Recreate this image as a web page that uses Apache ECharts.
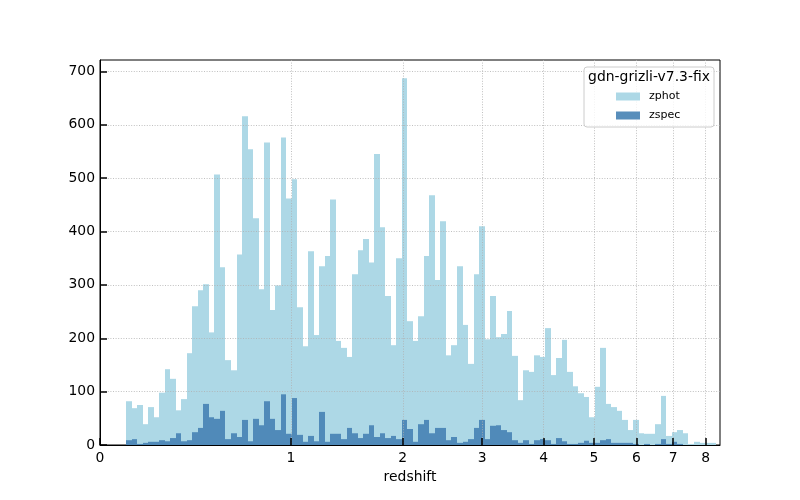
<!DOCTYPE html>
<html><head><meta charset="utf-8">
<script src="https://cdn.jsdelivr.net/npm/echarts@6/dist/echarts.min.js"></script>
<style>html,body{margin:0;padding:0;background:#fff}#c{width:800px;height:500px}</style>
</head><body><div id="c"></div>
<script>
// ---- data ----
const zTickValues = [0, 1, 2, 3, 4, 5, 6, 7, 8];
const yTickValues = [0, 100, 200, 300, 400, 500, 600, 700];
const seriesNames = ['zphot', 'zspec'];
const legendTitle = 'gdn-grizli-v7.3-fix';
const xAxisName = 'redshift';
const binStartZ = 0.1;      // first bin edge (redshift)
const binStepLn = 0.02;     // bin width in ln(1+z)
const xMaxZ = 8.484;        // axis upper limit (redshift)
const yMax = 721.35;
const zphotCounts = [82,69,75,39,71,52,98,142,124,65,86,172,260,290,301,211,507,333,159,140,
  357,616,554,425,292,567,253,299,576,462,498,258,185,363,206,335,354,460,195,182,
  165,320,365,386,342,545,408,279,187,350,687,232,195,241,354,468,309,419,168,187,
  335,225,152,320,410,198,279,202,208,251,167,84,140,137,168,165,219,131,163,197,
  137,110,97,90,52,109,182,77,71,64,47,28,47,22,21,21,39,92,17,24,
  28,22,2,6,4,4,4];
const zspecCounts = [9,11,2,4,6,6,9,7,13,22,7,9,24,32,77,52,49,64,11,22,
  15,47,7,49,37,82,49,28,95,21,88,19,6,17,7,62,6,21,21,11,
  32,22,13,21,37,15,22,13,17,11,47,30,6,39,47,22,32,32,9,15,
  4,6,11,32,47,11,36,37,28,24,9,4,9,2,9,11,9,2,13,7,
  2,2,4,8,4,4,9,11,4,4,4,4,2,0,2,0,2,11,2,6,
  2,0,0,0,0,0,0];

// ---- helpers ----
const FONT = 'DejaVu Sans';
const toX = z => Math.log(1 + z);
function binData(counts) {
  return counts.map((c, i) => {
    const lo = Math.log(1 + binStartZ) + binStepLn * i;
    return [lo, lo + binStepLn, c];
  });
}
function renderBar(params, api) {
  const p0 = api.coord([api.value(0), api.value(2)]);
  const p1 = api.coord([api.value(1), 0]);
  const x0 = Math.round(p0[0]), x1 = Math.round(p1[0]);
  return { type: 'rect', shape: { x: x0, y: p0[1], width: x1 - x0, height: p1[1] - p0[1] }, style: api.style() };
}

const gridLine = { show: true, lineStyle: { color: '#b0b0b0', width: 0.8, type: [1, 1.6] } };
const chart = echarts.init(document.getElementById('c'), null, { renderer: 'canvas' });
chart.setOption({
  animation: false,
  backgroundColor: '#fff',
  textStyle: { fontFamily: FONT },
  grid: { left: 100, right: 80, top: 60, bottom: 55, show: true, borderColor: '#000', borderWidth: 1, backgroundColor: 'transparent' },
  xAxis: {
    type: 'value', min: 0, max: toX(xMaxZ), z: 5,
    name: xAxisName, nameLocation: 'middle', nameGap: 24,
    nameTextStyle: { fontSize: 13.9, color: '#000', fontFamily: FONT },
    axisLine: { show: true, onZero: false, lineStyle: { color: '#000', width: 1 } },
    axisTick: { show: true, inside: true, length: 7, lineStyle: { color: '#000', width: 1.5 }, customValues: zTickValues.map(toX) },
    axisLabel: { color: '#000', fontSize: 13.9, margin: 6, fontFamily: FONT, customValues: zTickValues.map(toX),
      formatter: v => String(Math.round(Math.exp(v) - 1)) },
    splitLine: gridLine
  },
  yAxis: {
    type: 'value', min: 0, max: yMax, z: 5,
    axisLine: { show: true, lineStyle: { color: '#000', width: 1 } },
    axisTick: { show: true, inside: true, length: 7, lineStyle: { color: '#000', width: 1.5 }, customValues: yTickValues },
    axisLabel: { color: '#000', fontSize: 13.9, margin: 5, fontFamily: FONT, customValues: yTickValues },
    splitLine: gridLine
  },
  legend: {
    data: seriesNames, orient: 'vertical', left: 611, top: 85, itemWidth: 24, itemHeight: 8, itemGap: 6,
    icon: 'rect', selectedMode: false, z: 20,
    textStyle: { fontSize: 11, color: '#000', fontFamily: FONT, lineHeight: 13, padding: [0, 0, 0, 4] }
  },
  graphic: [
    { type: 'rect', z: 15, shape: { x: 584, y: 67, width: 130, height: 60, r: 3 },
      style: { fill: 'rgba(255,255,255,0.8)', stroke: '#cccccc', lineWidth: 1 } },
    { type: 'text', z: 16, x: 649, y: 77,
      style: { text: legendTitle, fontSize: 13.9, fontFamily: FONT, fill: '#000', textAlign: 'center', textVerticalAlign: 'middle' } }
  ],
  series: [
    { name: seriesNames[0], type: 'custom', renderItem: renderBar, data: binData(zphotCounts),
      encode: { x: [0, 1], y: 2 }, itemStyle: { color: '#add8e6' }, z: 2 },
    { name: seriesNames[1], type: 'custom', renderItem: renderBar, data: binData(zspecCounts),
      encode: { x: [0, 1], y: 2 }, itemStyle: { color: 'rgba(70,130,180,0.9)' }, z: 3 }
  ]
});
</script></body></html>
